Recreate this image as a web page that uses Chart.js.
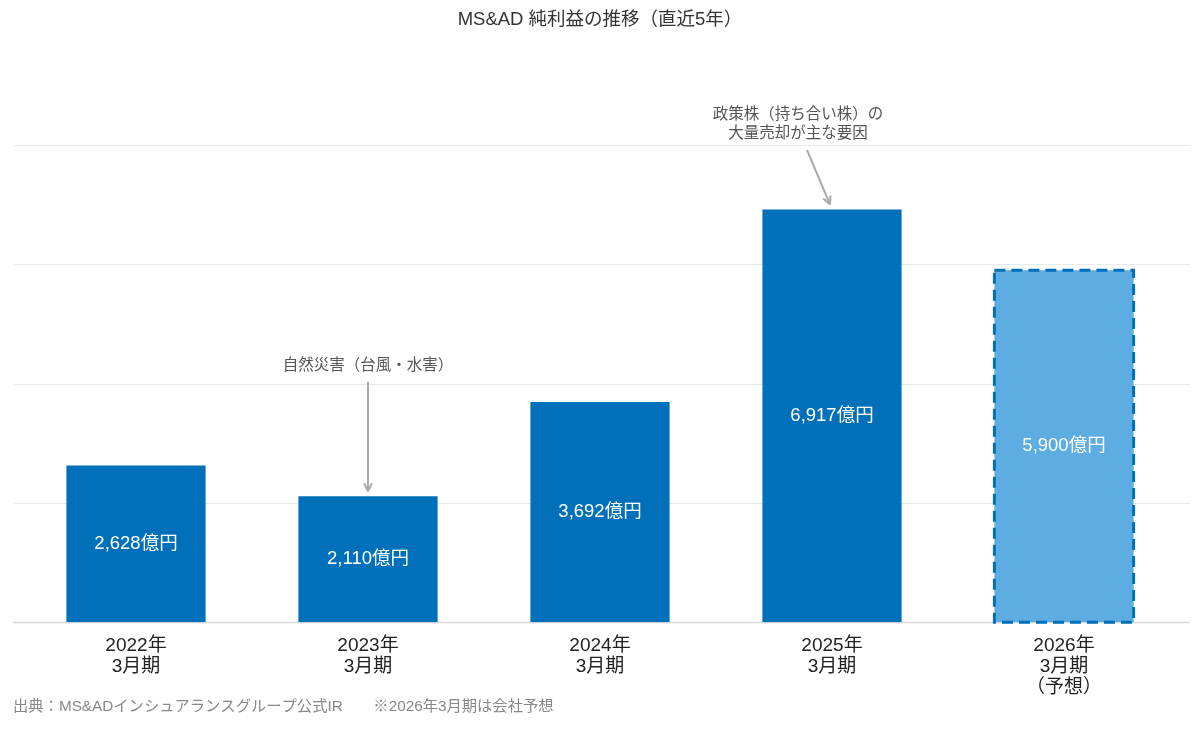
<!DOCTYPE html>
<html lang="ja">
<head>
<meta charset="utf-8">
<title>MS&AD 純利益の推移</title>
<script src="https://cdn.jsdelivr.net/npm/chart.js@4"></script>
<style>
  html, body { margin: 0; padding: 0; background: #fff; }
  #wrap { width: 1200px; height: 729px; position: relative; }
</style>
</head>
<body>
<div id="wrap"><canvas id="chart"></canvas></div>
<script>
// data
const categories = [
    ['2022年', '3月期'],
    ['2023年', '3月期'],
    ['2024年', '3月期'],
    ['2025年', '3月期'],
    ['2026年', '3月期', '（予想）']
];
const netIncome = [2628, 2110, 3692, 6917, 5900];
const valueLabels = ['2,628億円', '2,110億円', '3,692億円', '6,917億円', '5,900億円'];
const isForecast = [false, false, false, false, true];
const gridValues = [0, 2000, 4000, 6000, 8000];
const notes = [
    { index: 1, lines: ['自然災害（台風・水害）'] },
    { index: 3, lines: ['政策株（持ち合い株）の', '大量売却が主な要因'] }
];
const titleText = 'MS&AD 純利益の推移（直近5年）';
const footerText = '出典：MS&ADインシュアランスグループ公式IR　　※2026年3月期は会社予想';

// helvetica-like latin first, CJK falls back
const FONT = '"Liberation Sans", "Noto Sans CJK JP", sans-serif';
const DARK = '#0070BB';
const LIGHT = '#5DADE2';

// grid lines drawn a bit wider than the category area
const gridPlugin = {
    id: 'gridPlugin',
    beforeDatasetsDraw(chart) {
        const ctx = chart.ctx;
        const y = chart.scales.y;
        ctx.save();
        gridValues.forEach(v => {
            const py = Math.round(y.getPixelForValue(v)) + 0.5;
            ctx.strokeStyle = v === 0 ? '#d8d8d8' : '#e8e8e8';
            ctx.lineWidth = v === 0 ? 1.5 : 1;
            ctx.beginPath();
            ctx.moveTo(13, py);
            ctx.lineTo(1190, py);
            ctx.stroke();
        });
        ctx.restore();
    }
};

const labelPlugin = {
    id: 'labelPlugin',
    afterDatasetsDraw(chart) {
        const ctx = chart.ctx;
        const meta = chart.getDatasetMeta(0);
        ctx.save();
        meta.data.forEach((bar, i) => {
            // dashed outline for the forecast bar
            if (isForecast[i]) {
                ctx.setLineDash([11, 6]);
                ctx.strokeStyle = DARK;
                ctx.lineWidth = 3;
                ctx.strokeRect(bar.x - bar.width / 2, bar.y, bar.width, bar.base - bar.y);
                ctx.setLineDash([]);
            }
            ctx.fillStyle = '#fff';
            ctx.font = '18.5px ' + FONT;
            ctx.textAlign = 'center';
            ctx.textBaseline = 'middle';
            ctx.fillText(valueLabels[i], bar.x, (bar.y + bar.base) / 2);
        });

        // annotations with arrows
        ctx.font = '15.5px ' + FONT;
        notes.forEach(n => {
            const bar = meta.data[n.index];
            ctx.strokeStyle = '#aaa';
            ctx.lineWidth = 2;
            let x0, y0, x1, y1, tx, ty;
            if (n.index === 1) {
                tx = bar.x; ty = 366;
                x0 = bar.x; y0 = 382; x1 = bar.x; y1 = bar.y - 5;
            } else {
                tx = bar.x - 34; ty = 115;
                x0 = bar.x - 25; y0 = 150; x1 = bar.x - 2; y1 = bar.y - 5;
            }
            ctx.beginPath();
            ctx.moveTo(x0, y0);
            ctx.lineTo(x1, y1);
            ctx.stroke();
            const ang = Math.atan2(y1 - y0, x1 - x0);
            ctx.beginPath();
            ctx.moveTo(x1, y1);
            ctx.lineTo(x1 - 9 * Math.cos(ang - 0.45), y1 - 9 * Math.sin(ang - 0.45));
            ctx.moveTo(x1, y1);
            ctx.lineTo(x1 - 9 * Math.cos(ang + 0.45), y1 - 9 * Math.sin(ang + 0.45));
            ctx.stroke();
            ctx.fillStyle = '#555';
            ctx.textAlign = 'center';
            ctx.textBaseline = 'middle';
            n.lines.forEach((t, k) => ctx.fillText(t, tx, ty + k * 19));
        });

        // footer
        ctx.font = '15.3px ' + FONT;
        ctx.fillStyle = '#888';
        ctx.textAlign = 'left';
        ctx.fillText(footerText, 13, 707);
        ctx.restore();
    }
};

new Chart(document.getElementById('chart'), {
    type: 'bar',
    data: {
        labels: categories,
        datasets: [{
            data: netIncome,
            backgroundColor: isForecast.map(f => f ? LIGHT : DARK),
            borderWidth: 0,
            categoryPercentage: 1,
            barPercentage: 0.6
        }]
    },
    options: {
        responsive: true,
        maintainAspectRatio: false,
        animation: false,
        layout: { padding: { left: 20, right: 20, bottom: 18 } },
        plugins: {
            legend: { display: false },
            tooltip: { enabled: false },
            title: {
                display: true,
                text: titleText,
                color: '#333',
                font: { family: FONT, size: 18.5, weight: 'normal', lineHeight: 1.1 },
                padding: { top: 10, bottom: 10 }
            }
        },
        scales: {
            x: {
                grid: { display: false, drawTicks: false },
                border: { display: false },
                ticks: {
                    color: '#222',
                    font: { family: FONT, size: 19, lineHeight: 1.1 },
                    padding: 13,
                    maxRotation: 0
                }
            },
            y: {
                display: false,
                min: 0,
                max: 9750
            }
        }
    },
    plugins: [gridPlugin, labelPlugin]
});
</script>
</body>
</html>
